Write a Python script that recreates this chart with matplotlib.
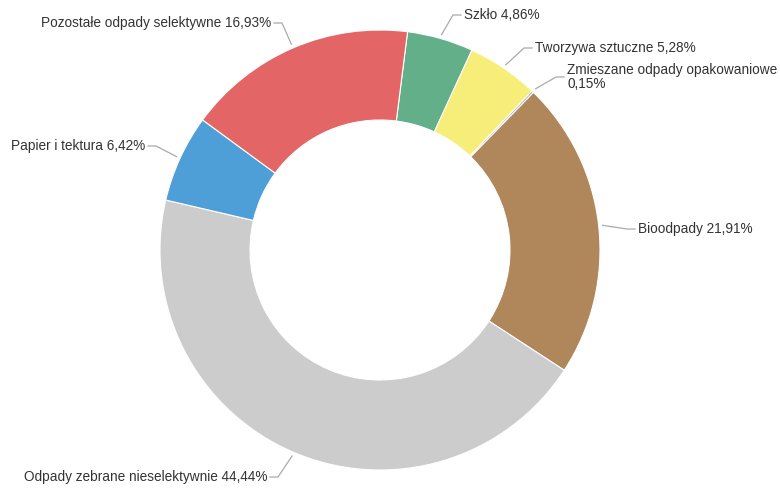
import matplotlib
matplotlib.use('Agg')
import matplotlib.pyplot as plt
import numpy as np

labels = ['Szkło', 'Tworzywa sztuczne', 'Zmieszane odpady opakowaniowe',
          'Bioodpady', 'Odpady zebrane nieselektywnie', 'Papier i tektura',
          'Pozostałe odpady selektywne']
values = [4.86, 5.28, 0.15, 21.91, 44.44, 6.42, 16.93]
value_text = ['4,86%', '5,28%', '0,15%', '21,91%', '44,44%', '6,42%', '16,93%']
colors = ['#63af8a', '#f7ee7a', '#9a9fae', '#b0875b', '#cccccc', '#4e9fd8', '#e46565']

# label layout in pixel coords (y up), anchor side
label_pos = [(464, 475, 'left'), (535, 442, 'left'), (567, 413, 'left'),
             (638, 261, 'left'), (267, 13, 'right'), (145, 344, 'right'),
             (271, 467, 'right')]

plt.rcParams['font.family'] = ['Liberation Sans', 'DejaVu Sans']

fig = plt.figure(figsize=(7.8, 4.9), dpi=100)
ax = fig.add_axes([0, 0, 1, 1])

cx, cy, R, width = 380, 240, 220, 90
start = 90 - 7.2
wedges, _ = ax.pie(values, colors=colors, startangle=start, counterclock=False,
                   center=(cx, cy), radius=R,
                   wedgeprops=dict(width=width, edgecolor='white', linewidth=0.8))

# labels with connectors
cum = np.cumsum([0] + values[:-1])
for i, lab in enumerate(labels):
    mid = np.deg2rad(start - (cum[i] + values[i] / 2) * 3.6)
    p0 = (cx + (R + 4) * np.cos(mid), cy + (R + 4) * np.sin(mid))
    lx, ly, side = label_pos[i]
    if side == 'left':
        p2 = (lx - 3, ly)
        p1 = (lx - 11, ly)
    else:
        p2 = (lx + 3, ly)
        p1 = (lx + 11, ly)
    ax.plot([p0[0], p1[0], p2[0]], [p0[1], p1[1], p2[1]], color='#aaaaaa', lw=0.9)
    if lab == 'Zmieszane odpady opakowaniowe':
        txt = lab + '\n' + value_text[i]
    else:
        txt = lab + ' ' + value_text[i]
    ax.text(lx, ly, txt, ha=side, va='center', fontsize=9.8, color='#333333',
            linespacing=1.0)

ax.set_xlim(0, 780)
ax.set_ylim(0, 490)
ax.set_aspect('equal')
ax.axis('off')

plt.savefig('out.png', dpi=100)
